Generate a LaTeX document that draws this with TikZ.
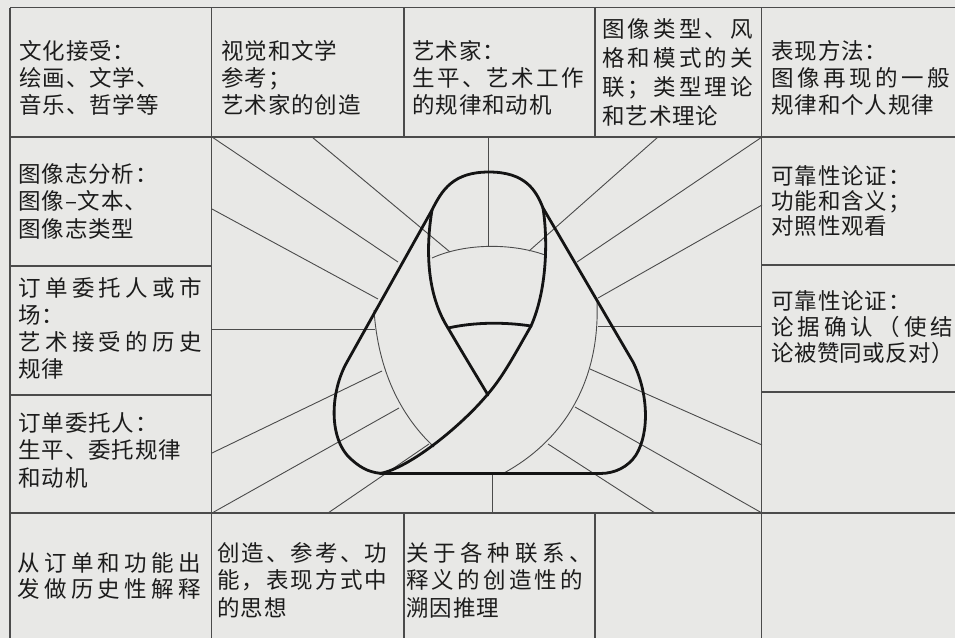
\documentclass[tikz,border=0pt]{standalone}
\usepackage{fontspec}
\setmainfont{Noto Sans CJK SC}[LetterSpace=4]

\definecolor{paper}{RGB}{232,232,230}
\definecolor{rule}{RGB}{75,75,75}
\definecolor{ink}{RGB}{20,20,20}
\definecolor{txt}{RGB}{28,28,28}

% spread the characters of one line over a given width
\makeatletter
\newcommand\spreadline[2]{\makebox[#1][s]{\spread@#2\spread@end\unskip}}
\def\spread@end{}
\def\spread@#1{\ifx#1\spread@end\else#1\hskip0pt plus 1fil minus 1pt\relax\expandafter\spread@\fi}
\makeatother

\tikzset{
  cell/.style={anchor=north west, inner sep=0pt, align=left, text=txt,
    font=\fontsize{22.5}{#1}\selectfont},
  cell/.default=27,
  grid line/.style={rule, line width=1.2pt},
  ray/.style={rule, line width=0.9pt},
  band/.style={ink, line width=2.8pt, line join=round, line cap=round},
  fold/.style={rule, line width=0.9pt},
}

\begin{document}
\begin{tikzpicture}[x=1pt,y=-1pt]
  \fill[paper] (0,0) rectangle (955,638);
  \useasboundingbox (0,0) rectangle (955,638);

  % table rules
  \draw[grid line] (10,7.5) -- (955,7.5);
  \draw[grid line] (10,7.5) -- (10,638);
  \draw[grid line] (10,137) -- (955,137);
  \draw[grid line] (10,513) -- (955,513);
  \draw[grid line] (211.5,7.5) -- (211.5,638);
  \draw[grid line] (761.5,7.5) -- (761.5,638);
  \foreach \x in {404,595} {
    \draw[grid line] (\x,7.5) -- (\x,137);
    \draw[grid line] (\x,513) -- (\x,638);
  }
  \draw[grid line] (10,266) -- (211.5,266) (10,395) -- (211.5,395);
  \draw[grid line] (761.5,265) -- (955,265) (761.5,392) -- (955,392);

  % rays from the frame towards the band
  \foreach \xa/\ya/\xb/\yb in {212/137/398/262, 312/137/450/252, 488/137/488/247,
      658/137/529/251, 762/137/577/262, 762/205/598/298, 762/326/598/326,
      762/445/590/369, 762/513/575/407, 655/513/548/444, 492/513/492/473,
      328/513/429/444, 212/513/399/408, 212/453/382/371, 212/329/375/329,
      212/209/378/299}
    \draw[ray] (\xa,\ya) -- (\xb,\yb);

  % thin fold lines of the band
  \draw[fold] (432,258) .. controls (465,243) and (512,243) .. (545,255);
  \draw[fold] (374,310) .. controls (378,370) and (400,415) .. (434,447);
  \draw[fold] (597,302) .. controls (600,380) and (565,440) .. (503,473.5);

  % outer edge
  \draw[band] (489,172) .. controls (453,172) and (442,190) .. (432,210)
    -- (347,362) .. controls (330,392) and (328,440) .. (352,460)
    .. controls (362,469) and (372,473.5) .. (385,473.5) -- (600,473.5)
    .. controls (615,473.5) and (628,467) .. (636,455)
    .. controls (650,432) and (648,392) .. (633,362) -- (543,208)
    .. controls (536,190) and (525,172) .. (489,172) -- cycle;
  % inner loop
  \draw[band] (432,210) .. controls (427,240) and (424,290) .. (448,328)
    .. controls (462,352) and (476,375) .. (488,395);
  \draw[band] (543,208) .. controls (548,240) and (547,290) .. (531,326)
    .. controls (516,352) and (503,377) .. (487,395)
    .. controls (462,425) and (410,468) .. (380,473.5);
  \draw[band] (448,328) .. controls (475,322) and (505,322) .. (531,326);

  % top row
  \node[cell] (culture) at (19,40) {文化接受：\\绘画、文学、\\音乐、哲学等};
  \node[cell] (visual) at (221,40) {视觉和文学\\参考；\\艺术家的创造};
  \node[cell] (artist) at (412,40) {艺术家：\\\spreadline{172pt}{生平、艺术工作}\\的规律和动机};
  \node[cell=29] (types) at (602,18) {\spreadline{151pt}{图像类型、风}\\\spreadline{151pt}{格和模式的关}\\\spreadline{151pt}{联；类型理论}\\和艺术理论};
  \node[cell] (method) at (771,40) {表现方法：\\\spreadline{179pt}{图像再现的一般}\\规律和个人规律};

  % left column
  \node[cell=27.5] (icono) at (18,163) {图像志分析：\\图像–文本、\\图像志类型};
  \node[cell] (market) at (18,277) {\spreadline{184pt}{订单委托人或市}\\场：\\\spreadline{184pt}{艺术接受的历史}\\规律};
  \node[cell=27.5] (patron) at (18,412) {订单委托人：\\生平、委托规律\\和动机};

  % right column
  \node[cell=25] (proof) at (771,165) {可靠性论证：\\功能和含义；\\对照性观看};
  \node[cell=26] (evidence) at (771,290) {可靠性论证：\\\spreadline{182pt}{论据确认（使结}\\\spreadline{183pt}{论被赞同或反对）}};

  % bottom row
  \node[cell=26] (history) at (17,552) {\spreadline{184pt}{从订单和功能出}\\\spreadline{184pt}{发做历史性解释}};
  \node[cell=27.5] (ideas) at (217,542) {\spreadline{170pt}{创造、参考、功}\\\spreadline{170pt}{能，表现方式中}\\的思想};
  \node[cell=27.5] (abduction) at (406,542) {\spreadline{186pt}{关于各种联系、}\\\spreadline{177pt}{释义的创造性的}\\溯因推理};
\end{tikzpicture}
\end{document}
